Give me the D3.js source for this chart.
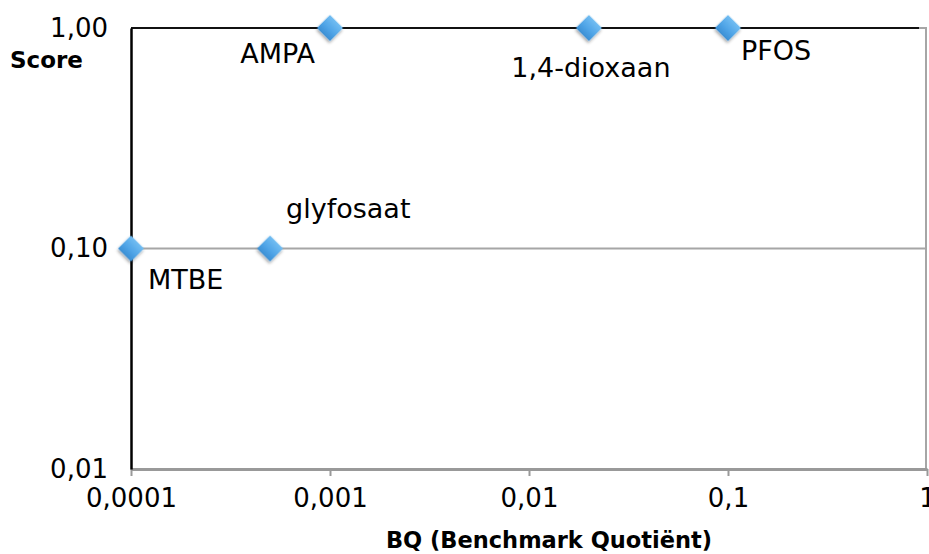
<!DOCTYPE html>
<html>
<head>
<meta charset="utf-8">
<script src="https://cdn.jsdelivr.net/npm/d3@7"></script>
<style>
  body { margin: 0; background: #fff; }
  svg { display: block; font-family: "DejaVu Sans", Verdana, sans-serif; }
</style>
</head>
<body>
<div class="chart"></div>
<script>
// substances, benchmark quotient (x) and score (y)
var names = ["MTBE", "glyfosaat", "AMPA", "1,4-dioxaan", "PFOS"];
var bq = [0.0001, 0.0005, 0.001, 0.02, 0.1];
var score = [0.1, 0.1, 1, 1, 1];

var xTicks = [0.0001, 0.001, 0.01, 0.1, 1];
var xTickLabels = ["0,0001", "0,001", "0,01", "0,1", "1"];
var yTicks = [0.01, 0.1, 1];
var yTickLabels = ["0,01", "0,10", "1,00"];

// where each label sits relative to its marker
var labelPlace = {
  "MTBE": { dx: 17, dy: 40, anchor: "start" },
  "glyfosaat": { dx: 16, dy: -31, anchor: "start" },
  "AMPA": { dx: -15, dy: 35, anchor: "end" },
  "1,4-dioxaan": { dx: 2, dy: 49, anchor: "middle" },
  "PFOS": { dx: 13, dy: 32, anchor: "start" }
};

const margin = ({ top: 28, right: 2, bottom: 85, left: 131 });
const width = 929, height = 554;
const w = width - margin.left - margin.right;
const h = height - margin.top - margin.bottom;

var svg = d3.select(".chart").append("svg")
    .attr("width", width)
    .attr("height", height);

var defs = svg.append("defs");
var grad = defs.append("linearGradient")
    .attr("id", "blue").attr("x1", 0).attr("y1", 0).attr("x2", 0).attr("y2", 1);
grad.append("stop").attr("offset", "0%").attr("stop-color", "#72bdf2");
grad.append("stop").attr("offset", "60%").attr("stop-color", "#4ea3e6");
grad.append("stop").attr("offset", "100%").attr("stop-color", "#3c8fd4");

var shadow = defs.append("filter").attr("id", "shadow")
    .attr("x", "-50%").attr("y", "-50%").attr("width", "200%").attr("height", "200%");
shadow.append("feDropShadow")
    .attr("dx", 1).attr("dy", 2).attr("stdDeviation", 1.5)
    .attr("flood-color", "#000").attr("flood-opacity", 0.35);

var x = d3.scaleLog().domain([0.0001, 1]).range([0, w]);
var y = d3.scaleLog().domain([0.01, 1]).range([h, 0]);

var g = svg.append("g").attr("transform", `translate(${margin.left}, ${margin.top})`);

// gridline at 0,10
g.append("line")
    .attr("x1", 0).attr("x2", w)
    .attr("y1", y(0.1)).attr("y2", y(0.1))
    .attr("stroke", "#a6a6a6").attr("stroke-width", 2);

// right border
g.append("line")
    .attr("x1", w - 1).attr("x2", w - 1)
    .attr("y1", 0).attr("y2", h)
    .attr("stroke", "#a6a6a6").attr("stroke-width", 2);

// top border
g.append("line")
    .attr("x1", 0).attr("x2", w - 8)
    .attr("y1", 0).attr("y2", 0)
    .attr("stroke", "#111").attr("stroke-width", 2);
g.append("line")
    .attr("x1", w - 8).attr("x2", w)
    .attr("y1", 0).attr("y2", 0)
    .attr("stroke", "#a6a6a6").attr("stroke-width", 2);

// x axis
var xAxis = g.append("g")
    .attr("transform", `translate(0, ${h})`)
    .call(d3.axisBottom(x).tickValues(xTicks)
        .tickFormat((d, i) => xTickLabels[i])
        .tickSize(7).tickPadding(13).tickSizeOuter(0));
xAxis.select(".domain").attr("stroke", "#999").attr("stroke-width", 3);
xAxis.selectAll(".tick line").attr("stroke", "#999").attr("stroke-width", 2);
xAxis.selectAll(".tick text")
    .attr("fill", "#000")
    .style("font-size", "26px")
    .style("font-family", "'DejaVu Sans', sans-serif");

// y axis
var yAxis = g.append("g")
    .call(d3.axisLeft(y).tickValues(yTicks)
        .tickFormat((d, i) => yTickLabels[i])
        .tickSize(0).tickPadding(23).tickSizeOuter(0));
yAxis.select(".domain").attr("stroke", "#000").attr("stroke-width", 2.5);
yAxis.selectAll(".tick text")
    .attr("fill", "#000")
    .style("font-size", "26px")
    .style("font-family", "'DejaVu Sans', sans-serif");

// axis titles
svg.append("text")
    .attr("x", 10).attr("y", 68)
    .attr("font-weight", "bold")
    .attr("font-size", 23)
    .text("Score");

svg.append("text")
    .attr("x", margin.left + w / 2 + 20).attr("y", 548)
    .attr("text-anchor", "middle")
    .attr("font-weight", "bold")
    .attr("font-size", 22.5)
    .text("BQ (Benchmark Quotiënt)");

// markers
var pts = names.map((n, i) => ({ name: n, bq: bq[i], score: score[i] }));

g.selectAll("path.marker")
    .data(pts)
    .join("path")
    .attr("class", "marker")
    .attr("d", d3.symbol().type(d3.symbolSquare).size(340))
    .attr("transform", d => `translate(${x(d.bq)}, ${y(d.score)}) rotate(45)`)
    .attr("fill", "url(#blue)")
    .attr("filter", "url(#shadow)");

g.selectAll("text.label")
    .data(pts)
    .join("text")
    .attr("class", "label")
    .attr("x", d => x(d.bq) + labelPlace[d.name].dx)
    .attr("y", d => y(d.score) + labelPlace[d.name].dy)
    .attr("text-anchor", d => labelPlace[d.name].anchor)
    .attr("font-size", 27)
    .text(d => d.name);
</script>
</body>
</html>
